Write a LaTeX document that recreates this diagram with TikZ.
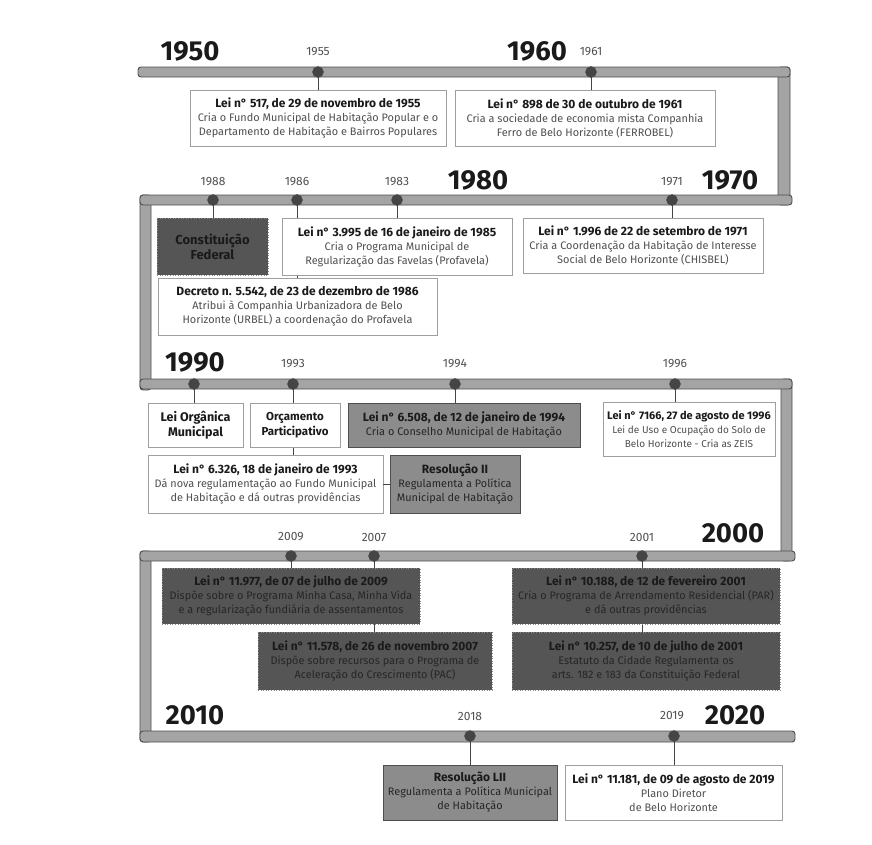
\documentclass[tikz,border=0pt]{standalone}
\usepackage{fontspec}
\setmainfont{Fira Sans}
\definecolor{barfill}{HTML}{A4A4A4}
\definecolor{barline}{HTML}{4E4E4E}
\definecolor{dotc}{HTML}{454545}
\definecolor{darkbox}{HTML}{555555}
\definecolor{graybox}{HTML}{8C8C8C}
\definecolor{txt}{HTML}{1A1A1A}
\definecolor{bodytxt}{HTML}{505050}
\definecolor{darkbody}{HTML}{262626}
\tikzset{
  bar/.style={fill=barfill,draw=barline,line width=0.9pt,rounded corners=3pt},
  dot/.style={circle,fill=dotc,draw=dotc,minimum size=11pt,inner sep=0pt},
  conn/.style={draw=dotc,line width=0.8pt},
  yr/.style={font=\fontsize{12}{13}\selectfont,text=bodytxt},
  decade/.style={font=\fontsize{27.5}{29}\selectfont\bfseries,text=txt},
  boxbase/.style={inner sep=0pt,align=center,font=\fontsize{10.9}{14}\selectfont},
  wbox/.style={boxbase,fill=white,draw=gray!75,line width=0.7pt,text=bodytxt},
  gbox/.style={boxbase,fill=graybox,draw=barline,line width=0.7pt,text=darkbody},
  dbox/.style={boxbase,fill=darkbox,draw=black!45,dotted,line width=0.6pt,text=darkbody},
  bigtitle/.style={font=\fontsize{12.5}{15}\selectfont\bfseries,text=txt},
}
\newcommand{\ttl}[1]{{\fontsize{12}{14}\selectfont\bfseries\color{txt}#1}}
\newcommand{\sttl}[1]{{\fontsize{11}{14}\selectfont\bfseries\color{txt}#1}}
\newcommand{\bx}[7]{\node[#2,minimum width={#5pt-#3pt},minimum height={#6pt-#4pt}] (#1) at ({(#3+#5)/2},{(#4+#6)/2}) {#7};}
\begin{document}
\begin{tikzpicture}[x=1pt,y=-1pt]
\useasboundingbox (0,0) rectangle (872,844);
% bars
\draw[bar] (778,67) rectangle (790,205);
\draw[bar] (138,67) rectangle (790,77);
\draw[bar] (140,195) rectangle (151,390);
\draw[bar] (140,195) rectangle (792,205);
\draw[bar] (781,379) rectangle (792,561);
\draw[bar] (140,379) rectangle (792,389);
\draw[bar] (140,551) rectangle (151,742);
\draw[bar] (140,551) rectangle (795,561);
\draw[bar] (140,731) rectangle (795,742);
% decade labels
\node[decade] (y1950) at (190,51) {1950};
\node[decade] (y1960) at (537,51) {1960};
\node[decade] (y1980) at (478,180) {1980};
\node[decade] (y1970) at (730,180) {1970};
\node[decade] (y1990) at (195,362) {1990};
\node[decade] (y2000) at (733,533) {2000};
\node[decade] (y2010) at (195,715) {2010};
\node[decade] (y2020) at (735,715) {2020};
% dot positions
\coordinate (c1955) at (318,72);
\coordinate (c1961) at (591,72);
\coordinate (c1988) at (213,200);
\coordinate (c1986) at (297,200);
\coordinate (c1983) at (397,200);
\coordinate (c1971) at (672,200);
\coordinate (c1990) at (194,384);
\coordinate (c1993) at (293,384);
\coordinate (c1994) at (455,384);
\coordinate (c1996) at (675,384);
\coordinate (c2009) at (291,556);
\coordinate (c2007) at (374,556);
\coordinate (c2001) at (642,556);
\coordinate (c2018) at (470,736);
\coordinate (c2019) at (674,736);
% small year labels
\node[yr] (t1955) at (318,52) {1955};
\node[yr] (t1961) at (591,52) {1961};
\node[yr] (t1988) at (213,182) {1988};
\node[yr] (t1986) at (297,182) {1986};
\node[yr] (t1983) at (397,182) {1983};
\node[yr] (t1971) at (672,182) {1971};
\node[yr] (t1993) at (293,364) {1993};
\node[yr] (t1994) at (455,364) {1994};
\node[yr] (t1996) at (675,364) {1996};
\node[yr] (t2009) at (291,537) {2009};
\node[yr] (t2007) at (374,537) {2007};
\node[yr] (t2001) at (642,537) {2001};
\node[yr] (t2018) at (470,716) {2018};
\node[yr] (t2019) at (672,716) {2019};
% connectors (boxes drawn afterwards cover their lower ends)
\draw[conn] (c1955) -- ++(0,18) coordinate (e1955);
\draw[conn] (c1961) -- ++(0,18) coordinate (e1961);
\draw[conn] (c1988) -- ++(0,18) coordinate (e1988);
\draw[conn] (c1986) -- ++(0,78) coordinate (e1986);
\draw[conn] (c1983) -- ++(0,18) coordinate (e1983);
\draw[conn] (c1971) -- ++(0,18) coordinate (e1971);
\draw[conn] (c1990) -- ++(0,19) coordinate (e1990);
\draw[conn] (c1993) -- ++(0,71) coordinate (e1993);
\draw[conn] (c1994) -- ++(0,19) coordinate (e1994);
\draw[conn] (c1996) -- ++(0,18) coordinate (e1996);
\draw[conn] (c2009) -- ++(0,12) coordinate (e2009);
\draw[conn] (c2007) -- ++(0,76) coordinate (e2007);
\draw[conn] (c2001) -- ++(0,76) coordinate (e2001);
\draw[conn] (c2018) -- ++(0,29) coordinate (e2018);
\draw[conn] (c2019) -- ++(0,29) coordinate (e2019);
% dots
\foreach \c in {1955,1961,1988,1986,1983,1971,1990,1993,1994,1996,2009,2007,2001,2018,2019}
  \node[dot] (d\c) at (c\c) {};
% boxes
\bx{bA}{wbox}{190}{90}{446}{146}{\ttl{Lei n° 517, de 29 de novembro de 1955}\\Cria o Fundo Municipal de Habitação Popular e o\\Departamento de Habitação e Bairros Populares}
\bx{bB}{wbox}{455}{90}{715}{146}{\ttl{Lei n° 898 de 30 de outubro de 1961}\\Cria a sociedade de economia mista Companhia\\Ferro de Belo Horizonte (FERROBEL)}
\bx{bCF}{dbox,font=\fontsize{13}{15}\selectfont\bfseries,text=txt}{157}{218}{268}{275}{Constituição\\Federal}
\bx{b3995}{wbox}{282}{218}{512}{275}{\ttl{Lei n° 3.995 de 16 de janeiro de 1985}\\Cria o Programa Municipal de\\Regularização das Favelas (Profavela)}
\bx{b1996}{wbox}{523}{218}{763}{273}{\ttl{Lei n° 1.996 de 22 de setembro de 1971}\\Cria a Coordenação da Habitação de Interesse\\Social de Belo Horizonte (CHISBEL)}
\bx{bDec}{wbox}{158}{278}{437}{335}{\ttl{Decreto n. 5.542, de 23 de dezembro de 1986}\\Atribui à Companhia Urbanizadora de Belo\\Horizonte (URBEL) a coordenação do Profavela}
\bx{bLOM}{wbox,bigtitle}{148}{403}{243}{447}{Lei Orgânica\\Municipal}
\bx{bOP}{wbox,bigtitle,font=\fontsize{11.5}{15}\selectfont\bfseries}{250}{403}{340}{447}{Orçamento\\Participativo}
\bx{b6508}{gbox}{348}{403}{580}{447}{\ttl{Lei n° 6.508, de 12 de janeiro de 1994}\\Cria o Conselho Municipal de Habitação}
\bx{b7166}{wbox,font=\fontsize{10}{14}\selectfont}{603}{402}{775}{456}{\sttl{Lei n° 7166, 27 de agosto de 1996}\\Lei de Uso e Ocupação do Solo de\\Belo Horizonte - Cria as ZEIS}
\bx{b6326}{wbox}{148}{455}{383}{513}{\ttl{Lei n° 6.326, 18 de janeiro de 1993}\\Dá nova regulamentação ao Fundo  Municipal\\de Habitação e dá outras providências}
\bx{bRII}{gbox}{390}{455}{520}{513}{\ttl{Resolução II}\\Regulamenta a Política\\Municipal de Habitação}
\bx{b11977}{dbox}{162}{568}{420}{624}{\ttl{Lei n° 11.977, de 07 de julho de 2009}\\Dispõe sobre o Programa Minha Casa, Minha Vida\\e a regularização fundiária de assentamentos}
\bx{b11578}{dbox}{258}{632}{492}{690}{\ttl{Lei n° 11.578, de 26 de novembro 2007}\\Dispõe sobre recursos para o Programa de\\Aceleração do Crescimento (PAC)}
\bx{b10188}{dbox}{512}{568}{780}{624}{\ttl{Lei n° 10.188, de 12 de fevereiro 2001}\\Cria o Programa de Arrendamento Residencial (PAR)\\e dá outras providências}
\bx{b10257}{dbox}{512}{632}{780}{690}{\ttl{Lei n° 10.257, de 10 de julho de 2001}\\Estatuto da Cidade Regulamenta os\\arts. 182 e 183 da Constituição Federal}
\bx{bRLII}{gbox}{383}{765}{557}{820}{\ttl{Resolução LII}\\Regulamenta a Política Municipal\\de Habitação}
\bx{b11181}{wbox}{565}{765}{782}{820}{\ttl{Lei n° 11.181, de 09 de agosto de 2019}\\Plano Diretor\\de Belo Horizonte}
% horizontal link
\draw[conn] (b6326.east) -- (bRII.west);
\end{tikzpicture}
\end{document}
